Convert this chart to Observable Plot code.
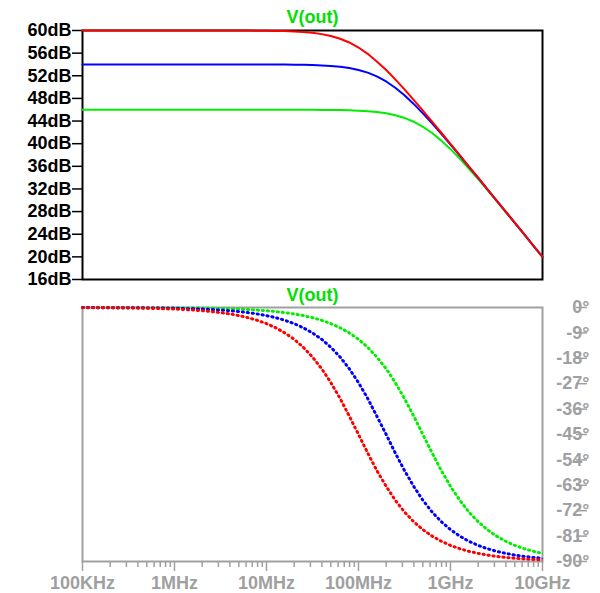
<!DOCTYPE html>
<html>
<head>
<meta charset="utf-8">
<script src="https://cdn.jsdelivr.net/npm/d3@7"></script>
<script src="https://cdn.jsdelivr.net/npm/@observablehq/plot@0.6"></script>
<style>
  html, body { margin: 0; padding: 0; background: #fff; }
  #wrap { position: relative; width: 600px; height: 593px; overflow: hidden; background: #fff; }
  #wrap svg { display: block; position: absolute; left: 0; }
</style>
</head>
<body>
<div id="wrap"></div>
<script>
// Frequencies in MHz (100KHz .. 10GHz)
const freqMHz = [
  0.1, 0.126, 0.158, 0.2, 0.251, 0.316, 0.398, 0.501, 0.631, 0.794,
  1, 1.26, 1.58, 2, 2.51, 3.16, 3.98, 5.01, 6.31, 7.94,
  10, 12.6, 15.8, 20, 25.1, 31.6, 39.8, 50.1, 63.1, 79.4,
  100, 126, 158, 200, 251, 316, 398, 501, 631, 794,
  1000, 1260, 1580, 2000, 2510, 3160, 3980, 5010, 6310, 7940,
  10000
];
// Magnitude (dB)
const magRed = [
  60, 60, 60, 60, 60, 60, 60, 60, 60, 60,
  60, 60, 60, 60, 60, 60, 59.99, 59.99, 59.98, 59.97,
  59.96, 59.93, 59.89, 59.83, 59.73, 59.59, 59.36, 59.03, 58.55, 57.88,
  56.99, 55.88, 54.54, 53.03, 51.36, 49.59, 47.73, 45.83, 43.89, 41.93,
  39.96, 37.97, 35.98, 33.99, 31.99, 30.00, 28.00, 26.00, 24.00, 22.00,
  20.00
];
const magBlue = [
  54, 54, 54, 54, 54, 54, 54, 54, 54, 54,
  54, 54, 54, 54, 54, 54, 54, 54, 54, 53.99,
  53.99, 53.98, 53.97, 53.96, 53.93, 53.89, 53.83, 53.73, 53.59, 53.36,
  53.03, 52.55, 51.88, 50.99, 49.88, 48.54, 47.03, 45.36, 43.59, 41.73,
  39.83, 37.89, 35.93, 33.96, 31.97, 29.98, 27.99, 25.99, 24.00, 22.00,
  20.00
];
const magGreen = [
  46, 46, 46, 46, 46, 46, 46, 46, 46, 46,
  46, 46, 46, 46, 46, 46, 46, 46, 46, 46,
  46, 46, 46, 45.99, 45.99, 45.98, 45.97, 45.96, 45.93, 45.89,
  45.83, 45.73, 45.59, 45.36, 45.03, 44.55, 43.88, 42.99, 41.88, 40.54,
  39.03, 37.36, 35.59, 33.73, 31.83, 29.89, 27.93, 25.96, 23.97, 21.98,
  19.99
];
// Phase (degrees)
const phRed = [
  -0.06, -0.07, -0.09, -0.11, -0.14, -0.18, -0.23, -0.29, -0.36, -0.46,
  -0.57, -0.72, -0.91, -1.14, -1.44, -1.81, -2.28, -2.87, -3.61, -4.54,
  -5.71, -7.18, -9.01, -11.28, -14.10, -17.55, -21.70, -26.62, -32.25, -38.46,
  -45.00, -51.54, -57.75, -63.38, -68.30, -72.45, -75.90, -78.72, -80.99, -82.82,
  -84.29, -85.46, -86.39, -87.13, -87.72, -88.19, -88.56, -88.86, -89.09, -89.28,
  -89.43
];
const phBlue = [
  -0.03, -0.04, -0.05, -0.06, -0.07, -0.09, -0.11, -0.14, -0.18, -0.23,
  -0.29, -0.36, -0.46, -0.57, -0.72, -0.91, -1.14, -1.44, -1.81, -2.28,
  -2.87, -3.61, -4.54, -5.71, -7.18, -9.01, -11.28, -14.10, -17.55, -21.70,
  -26.62, -32.25, -38.46, -45.00, -51.54, -57.75, -63.38, -68.30, -72.45, -75.90,
  -78.72, -80.99, -82.82, -84.29, -85.46, -86.39, -87.13, -87.72, -88.19, -88.56,
  -88.86
];
const phGreen = [
  -0.01, -0.01, -0.02, -0.02, -0.03, -0.04, -0.05, -0.06, -0.07, -0.09,
  -0.11, -0.14, -0.18, -0.23, -0.29, -0.36, -0.46, -0.57, -0.72, -0.91,
  -1.14, -1.44, -1.81, -2.28, -2.87, -3.61, -4.54, -5.71, -7.18, -9.01,
  -11.28, -14.10, -17.55, -21.70, -26.62, -32.25, -38.46, -45.00, -51.54, -57.75,
  -63.38, -68.30, -72.45, -75.90, -78.72, -80.99, -82.82, -84.29, -85.46, -86.39,
  -87.13
];
const magTicks = [16, 20, 24, 28, 32, 36, 40, 44, 48, 52, 56, 60];
const phaseTicks = [0, -9, -18, -27, -36, -45, -54, -63, -72, -81, -90];
const freqMajor = [0.1, 1, 10, 100, 1000, 10000];
const freqLabels = ["100KHz", "1MHz", "10MHz", "100MHz", "1GHz", "10GHz"];
const freqMinor = [2, 3, 4, 5, 6, 7, 8, 9];
const traceTitle = "V(out)";
const seriesColors = ["#ff0000", "#0000ff", "#00ee00"];

const FONT = "'Liberation Sans', Arial, sans-serif";
const GRAY = "#a0a0a0";
const TITLE_GREEN = "#00e000";

function series(vals) {
  return freqMHz.map((f, i) => ({f, v: vals[i]}));
}
const minorTicks = [];
for (const m of freqMajor.slice(0, -1)) for (const k of freqMinor) minorTicks.push(m * k);

const common = {
  width: 600,
  marginLeft: 82,
  marginRight: 58,
  style: {fontFamily: FONT, fontSize: "18px", fontWeight: "bold", background: "transparent", overflow: "visible"}
};

// Top: magnitude
const magPlot = Plot.plot({
  ...common,
  height: 290,
  marginTop: 30,
  marginBottom: 11,
  x: {type: "log", domain: [0.1, 10000], axis: null},
  y: {domain: [16, 60], axis: null},
  marks: [
    Plot.axisY({ticks: magTicks, tickSize: 10, tickPadding: 1, strokeWidth: 1.5, color: "black", label: null,
      fontSize: 18, fontWeight: "bold", tickFormat: d => d + "dB"}),
    Plot.frame({stroke: "black", strokeWidth: 2}),
    Plot.line(series(magGreen), {x: "f", y: "v", stroke: seriesColors[2], strokeWidth: 2}),
    Plot.line(series(magBlue), {x: "f", y: "v", stroke: seriesColors[1], strokeWidth: 2}),
    Plot.line(series(magRed), {x: "f", y: "v", stroke: seriesColors[0], strokeWidth: 2}),
    Plot.text([traceTitle], {frameAnchor: "top", dy: -13, lineAnchor: "middle", fill: TITLE_GREEN,
      fontSize: 18, fontWeight: "bold"})
  ]
});
magPlot.style.top = "0px";

// Phase trace drawn as a row of small "+" markers (two dashed strokes crossing)
function plusLine(vals, color) {
  return [
    Plot.line(series(vals), {x: "f", y: "v", stroke: color, strokeWidth: 3, strokeDasharray: "1,4"}),
    Plot.line(series(vals), {x: "f", y: "v", stroke: color, strokeWidth: 1, strokeDasharray: "3,2", strokeDashoffset: 1})
  ];
}

// Bottom: phase
const phasePlot = Plot.plot({
  ...common,
  height: 311,
  marginTop: 25,
  marginBottom: 32,
  x: {type: "log", domain: [0.1, 10000], axis: null},
  y: {domain: [-90, 0], axis: null},
  marks: [
    Plot.frame({stroke: GRAY, strokeWidth: 2}),
    Plot.axisX({ticks: minorTicks, tickSize: 6, tickFormat: () => "", color: GRAY, strokeWidth: 1.5, label: null}),
    Plot.axisX({ticks: freqMajor, tickSize: 10, tickPadding: 5, color: GRAY, strokeWidth: 1.5, label: null,
      fontSize: 18, fontWeight: "bold", tickFormat: d => freqLabels[freqMajor.indexOf(d)]}),
    Plot.axisY({anchor: "right", ticks: phaseTicks, tickSize: 11, tickPadding: 3, color: GRAY, strokeWidth: 1.5, label: null,
      fontSize: 18, fontWeight: "bold", textAnchor: "end", dx: 33, tickFormat: d => d + "°"}),
    ...plusLine(phGreen, seriesColors[2]),
    ...plusLine(phBlue, seriesColors[1]),
    ...plusLine(phRed, seriesColors[0]),
    Plot.text([traceTitle], {frameAnchor: "top", dy: -12, lineAnchor: "middle", fill: TITLE_GREEN,
      fontSize: 18, fontWeight: "bold"})
  ]
});
phasePlot.style.top = "282px";

const wrap = document.getElementById("wrap");
wrap.appendChild(magPlot);
wrap.appendChild(phasePlot);
</script>
</body>
</html>
